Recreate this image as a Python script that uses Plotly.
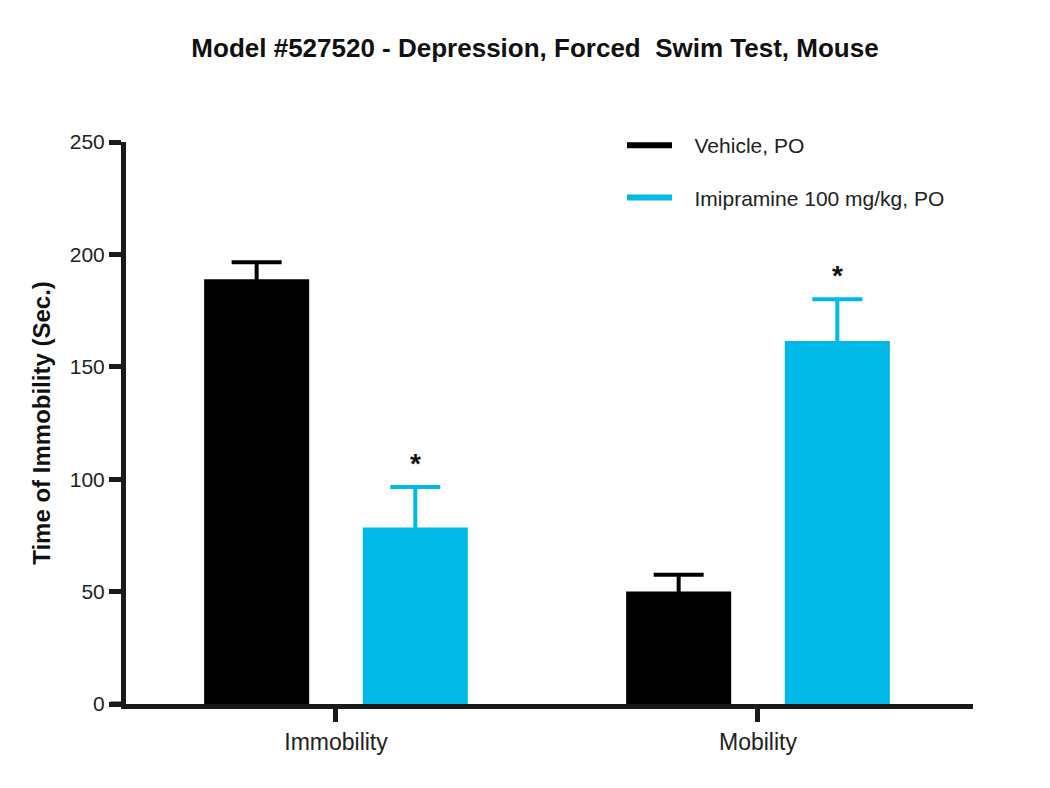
import plotly.graph_objects as go

categories = ["Immobility", "Mobility"]
vehicle_vals = [189, 50]
vehicle_err = [7.5, 7.5]
imip_vals = [78.5, 161.5]
imip_err = [18, 18.5]
sig_marks = ["*", "*"]
series_names = ["Vehicle, PO", "Imipramine 100 mg/kg, PO"]
colors = ["#000000", "#00B9E6"]
y_ticks = [0, 50, 100, 150, 200, 250]

FONT = "Liberation Sans, Arial, sans-serif"
AX = "#1a1a1a"
PAD = "\u00a0\u00a0\u00a0"

fig = go.Figure()
for vals, errs, name, col in [(vehicle_vals, vehicle_err, series_names[0], colors[0]),
                              (imip_vals, imip_err, series_names[1], colors[1])]:
    fig.add_trace(go.Bar(
        x=categories, y=vals, name=name, marker=dict(color=col, line=dict(width=0)),
        error_y=dict(type="data", symmetric=True, array=errs,
                     color=col, thickness=4, width=25),
        showlegend=False))

# legend entries drawn as lines
for i, (name, col) in enumerate(zip(series_names, colors)):
    fig.add_trace(go.Scatter(x=[None], y=[None], mode="lines", name=PAD + name,
                             line=dict(color=col, width=6), legendgroup=f"g{i}"))

# significance asterisks above imipramine bars
for i, (v, e, s) in enumerate(zip(imip_vals, imip_err, sig_marks)):
    fig.add_annotation(x=i + 0.188, y=v + e, text=f"<b>{s}</b>", showarrow=False,
                       xref="x", yref="y", yanchor="bottom", yshift=6,
                       font=dict(family=FONT, size=28, color="#111"))

fig.add_shape(type="line", xref="paper", yref="paper", x0=-0.018, x1=0, y0=0, y1=0,
              ysizemode="pixel", yanchor=0, line=dict(color=AX, width=5))

fig.update_layout(
    width=1050, height=788,
    margin=dict(l=126, r=77, t=142, b=84),
    paper_bgcolor="white", plot_bgcolor="white",
    barmode="group", bargap=0.248, bargroupgap=0.338,
    title=dict(text="<b>Model #527520 - Depression, Forced\u00a0 Swim Test, Mouse</b>",
               x=535 / 1050, xanchor="center", y=1 - 48 / 788, yanchor="middle",
               font=dict(family=FONT, size=26, color="#111")),
    legend=dict(x=0.5856, y=1.03, xanchor="left", yanchor="top",
                font=dict(family=FONT, size=21, color="#222"),
                tracegroupgap=22, itemwidth=45, bgcolor="rgba(0,0,0,0)"),
    font=dict(family=FONT, color="#222"),
)
fig.update_xaxes(range=[-0.4976, 1.5095], showline=True, linecolor=AX, linewidth=5,
                 ticks="outside", ticklen=13, tickwidth=5, tickcolor=AX,
                 tickfont=dict(family=FONT, size=23, color="#222"),
                 showgrid=False, zeroline=False)
fig.update_yaxes(range=[0, 250], tickvals=y_ticks, showline=True, linecolor=AX, linewidth=5,
                 ticks="outside", ticklen=12, tickwidth=5, tickcolor=AX,
                 tickfont=dict(family=FONT, size=21, color="#222"),
                 showgrid=False, zeroline=False,
                 title=dict(text="<b>Time of Immobility (Sec.)</b>", standoff=14,
                            font=dict(family=FONT, size=24, color="#111")))

fig.write_html("out.html", config={"displayModeBar": False},
               post_script="document.body.style.margin='0';")
